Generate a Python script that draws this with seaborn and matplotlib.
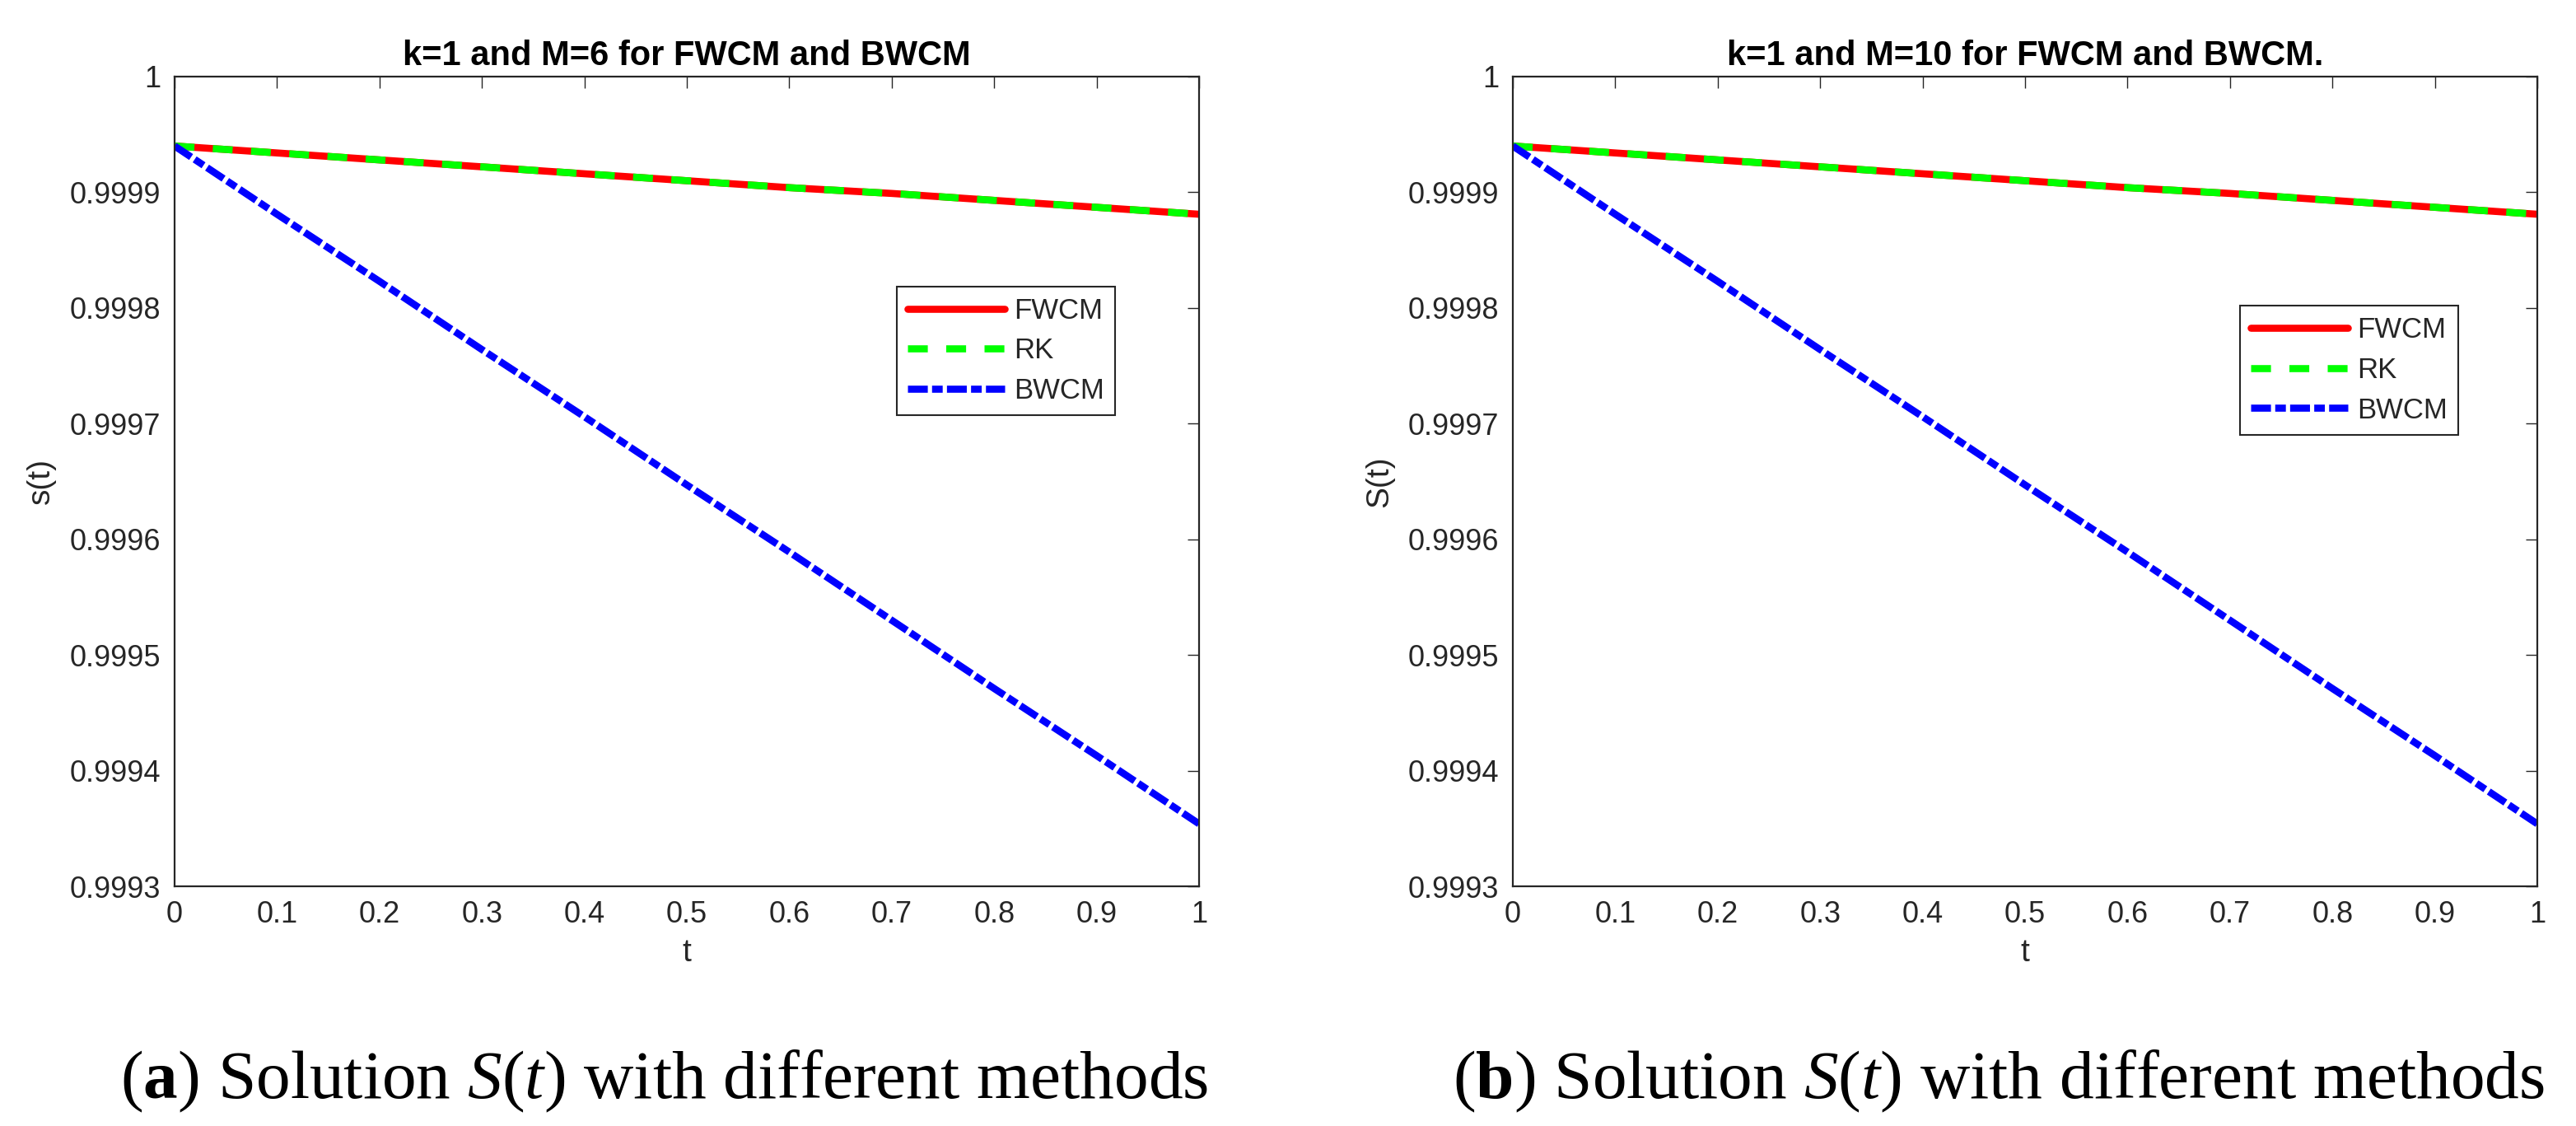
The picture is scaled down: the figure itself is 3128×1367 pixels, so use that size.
import numpy as np
import pandas as pd
import matplotlib
matplotlib.use("Agg")
import matplotlib.pyplot as plt
import seaborn as sns

# ---- data ----
t_vals = [0.0, 0.1, 0.2, 0.3, 0.4, 0.5, 0.6, 0.7, 0.8, 0.9, 1.0]
fwcm_a = [0.999940, 0.999934, 0.999928, 0.999922, 0.999916, 0.999910,
          0.999904, 0.999899, 0.999893, 0.999887, 0.999881]
rk_a   = [0.999940, 0.999934, 0.999928, 0.999922, 0.999916, 0.999910,
          0.999904, 0.999899, 0.999893, 0.999887, 0.999881]
bwcm_a = [0.999940, 0.999881, 0.999823, 0.999764, 0.999706, 0.999647,
          0.999589, 0.999530, 0.999471, 0.999413, 0.999354]
fwcm_b = [0.999940, 0.999934, 0.999928, 0.999922, 0.999916, 0.999910,
          0.999904, 0.999899, 0.999893, 0.999887, 0.999881]
rk_b   = [0.999940, 0.999934, 0.999928, 0.999922, 0.999916, 0.999910,
          0.999904, 0.999899, 0.999893, 0.999887, 0.999881]
bwcm_b = [0.999940, 0.999881, 0.999823, 0.999764, 0.999706, 0.999647,
          0.999589, 0.999530, 0.999471, 0.999413, 0.999354]

methods = ["FWCM", "RK", "BWCM"]
titles = ["k=1 and M=6 for FWCM and BWCM", "k=1 and M=10 for FWCM and BWCM."]
ylabels = ["s(t)", "S(t)"]
captions = [r"($\mathbf{a}$) Solution $S(t)$ with different methods",
            r"($\mathbf{b}$) Solution $S(t)$ with different methods"]
xticks = [0, 0.1, 0.2, 0.3, 0.4, 0.5, 0.6, 0.7, 0.8, 0.9, 1]
xticklabels = ["0", "0.1", "0.2", "0.3", "0.4", "0.5", "0.6", "0.7", "0.8", "0.9", "1"]
yticks = [0.9993, 0.9994, 0.9995, 0.9996, 0.9997, 0.9998, 0.9999, 1.0]
yticklabels = ["0.9993", "0.9994", "0.9995", "0.9996", "0.9997", "0.9998", "0.9999", "1"]

sns.set_style("white")
plt.rcParams["font.family"] = ["Liberation Sans", "DejaVu Sans"]
plt.rcParams["mathtext.fontset"] = "custom"
plt.rcParams["mathtext.rm"] = "Liberation Serif"
plt.rcParams["mathtext.it"] = "Liberation Serif:italic"
plt.rcParams["mathtext.bf"] = "Liberation Serif:bold"

DARK = "#262626"
palette = {"FWCM": (1, 0, 0), "RK": (0, 1, 0), "BWCM": (0, 0, 1)}
dash_map = {"FWCM": "", "RK": (2.8, 2.6), "BWCM": (2.8, 0.6, 1.5, 0.6)}

fig = plt.figure(figsize=(31.28, 13.67), dpi=100)
axes_pos = [[212 / 3128, 1 - 1076 / 1367, 1244 / 3128, 983 / 1367],
            [1837 / 3128, 1 - 1076 / 1367, 1244 / 3128, 983 / 1367]]
legend_anchor = [(0.705, 0.741), (0.710, 0.717)]
caption_x = [807 / 3128, 2427 / 3128]

series = [(fwcm_a, rk_a, bwcm_a), (fwcm_b, rk_b, bwcm_b)]

for i in range(2):
    ax = fig.add_axes(axes_pos[i])
    f, r, b = series[i]
    df = pd.DataFrame({
        "t": t_vals * 3,
        "S": f + r + b,
        "method": ["FWCM"] * len(t_vals) + ["RK"] * len(t_vals) + ["BWCM"] * len(t_vals),
    })
    sns.lineplot(data=df, x="t", y="S", hue="method", style="method",
                 hue_order=methods, style_order=methods, palette=palette,
                 dashes=dash_map, lw=6.2, legend=False, ax=ax, sort=False)
    ax.set_xlim(0, 1)
    ax.set_ylim(0.9993, 1.0)
    ax.set_xticks(xticks)
    ax.set_xticklabels(xticklabels)
    ax.set_yticks(yticks)
    ax.set_yticklabels(yticklabels)
    ax.tick_params(direction="in", length=10, width=1.0, colors=DARK,
                   labelsize=26, top=True, right=True, pad=12)
    for s in ax.spines.values():
        s.set_color(DARK)
        s.set_linewidth(1.6)
    ax.set_xlabel("t", fontsize=28, color=DARK, labelpad=8)
    ax.set_ylabel(ylabels[i], fontsize=28, color=DARK, labelpad=12)
    ax.set_title(titles[i], fontsize=30, fontweight="bold", color="black", pad=10)
    leg = ax.legend(ax.get_lines()[:3], methods, loc="upper left",
                    bbox_to_anchor=legend_anchor[i], borderaxespad=0,
                    fontsize=25, handlelength=3.4, handletextpad=0.3,
                    labelspacing=0.45, borderpad=0.38, fancybox=False,
                    framealpha=1, edgecolor=DARK)
    leg.get_frame().set_linewidth(1.5)
    fig.text(caption_x[i], 1 - 1333 / 1367, captions[i], fontsize=60,
             ha="center", va="baseline", family="Liberation Serif", color="black")

fig.savefig("out.png", dpi=100)
